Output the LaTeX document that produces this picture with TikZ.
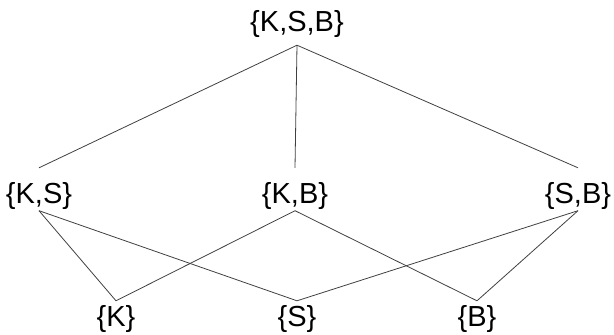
\documentclass[tikz,border=0pt]{standalone}
\usepackage{fontspec}
\setmainfont{Liberation Sans}
\begin{document}
\begin{tikzpicture}[x=1pt,y=1pt,
  lbl/.style={anchor=base,inner xsep=0pt,inner ysep=0pt,font=\fontsize{29}{32}\selectfont},
  toplbl/.style={lbl,text height=21pt,text depth=13pt},
  midlbl/.style={lbl,text height=36pt,text depth=6.5pt},
  botlbl/.style={lbl,text height=26pt,text depth=0pt},
  edge/.style={draw=black!75,line width=0.8pt}]
\useasboundingbox (0,0) rectangle (614,335);
% top element
\node[toplbl] (ksb) at (297,303) {\{K,S,B\}};
% two-element subsets
\node[midlbl] (ks) at (39,131) {\{K,S\}};
\node[midlbl] (kb) at (295,131) {\{K,B\}};
\node[midlbl] (sb) at (578,131) {\{S,B\}};
% singletons
\node[botlbl] (k) at (116,8) {\{K\}};
\node[botlbl] (s) at (297,8) {\{S\}};
\node[botlbl] (b) at (477,8) {\{B\}};
% covering relations
\draw[edge] (ksb.south) -- (ks.north);
\draw[edge] (ksb.south) -- (kb.north);
\draw[edge] (ksb.south) -- (sb.north);
\draw[edge] (ks.south) -- (k.north);
\draw[edge] (ks.south) -- (s.north);
\draw[edge] (kb.south) -- (k.north);
\draw[edge] (kb.south) -- (b.north);
\draw[edge] (sb.south) -- (s.north);
\draw[edge] (sb.south) -- (b.north);
\end{tikzpicture}
\end{document}
